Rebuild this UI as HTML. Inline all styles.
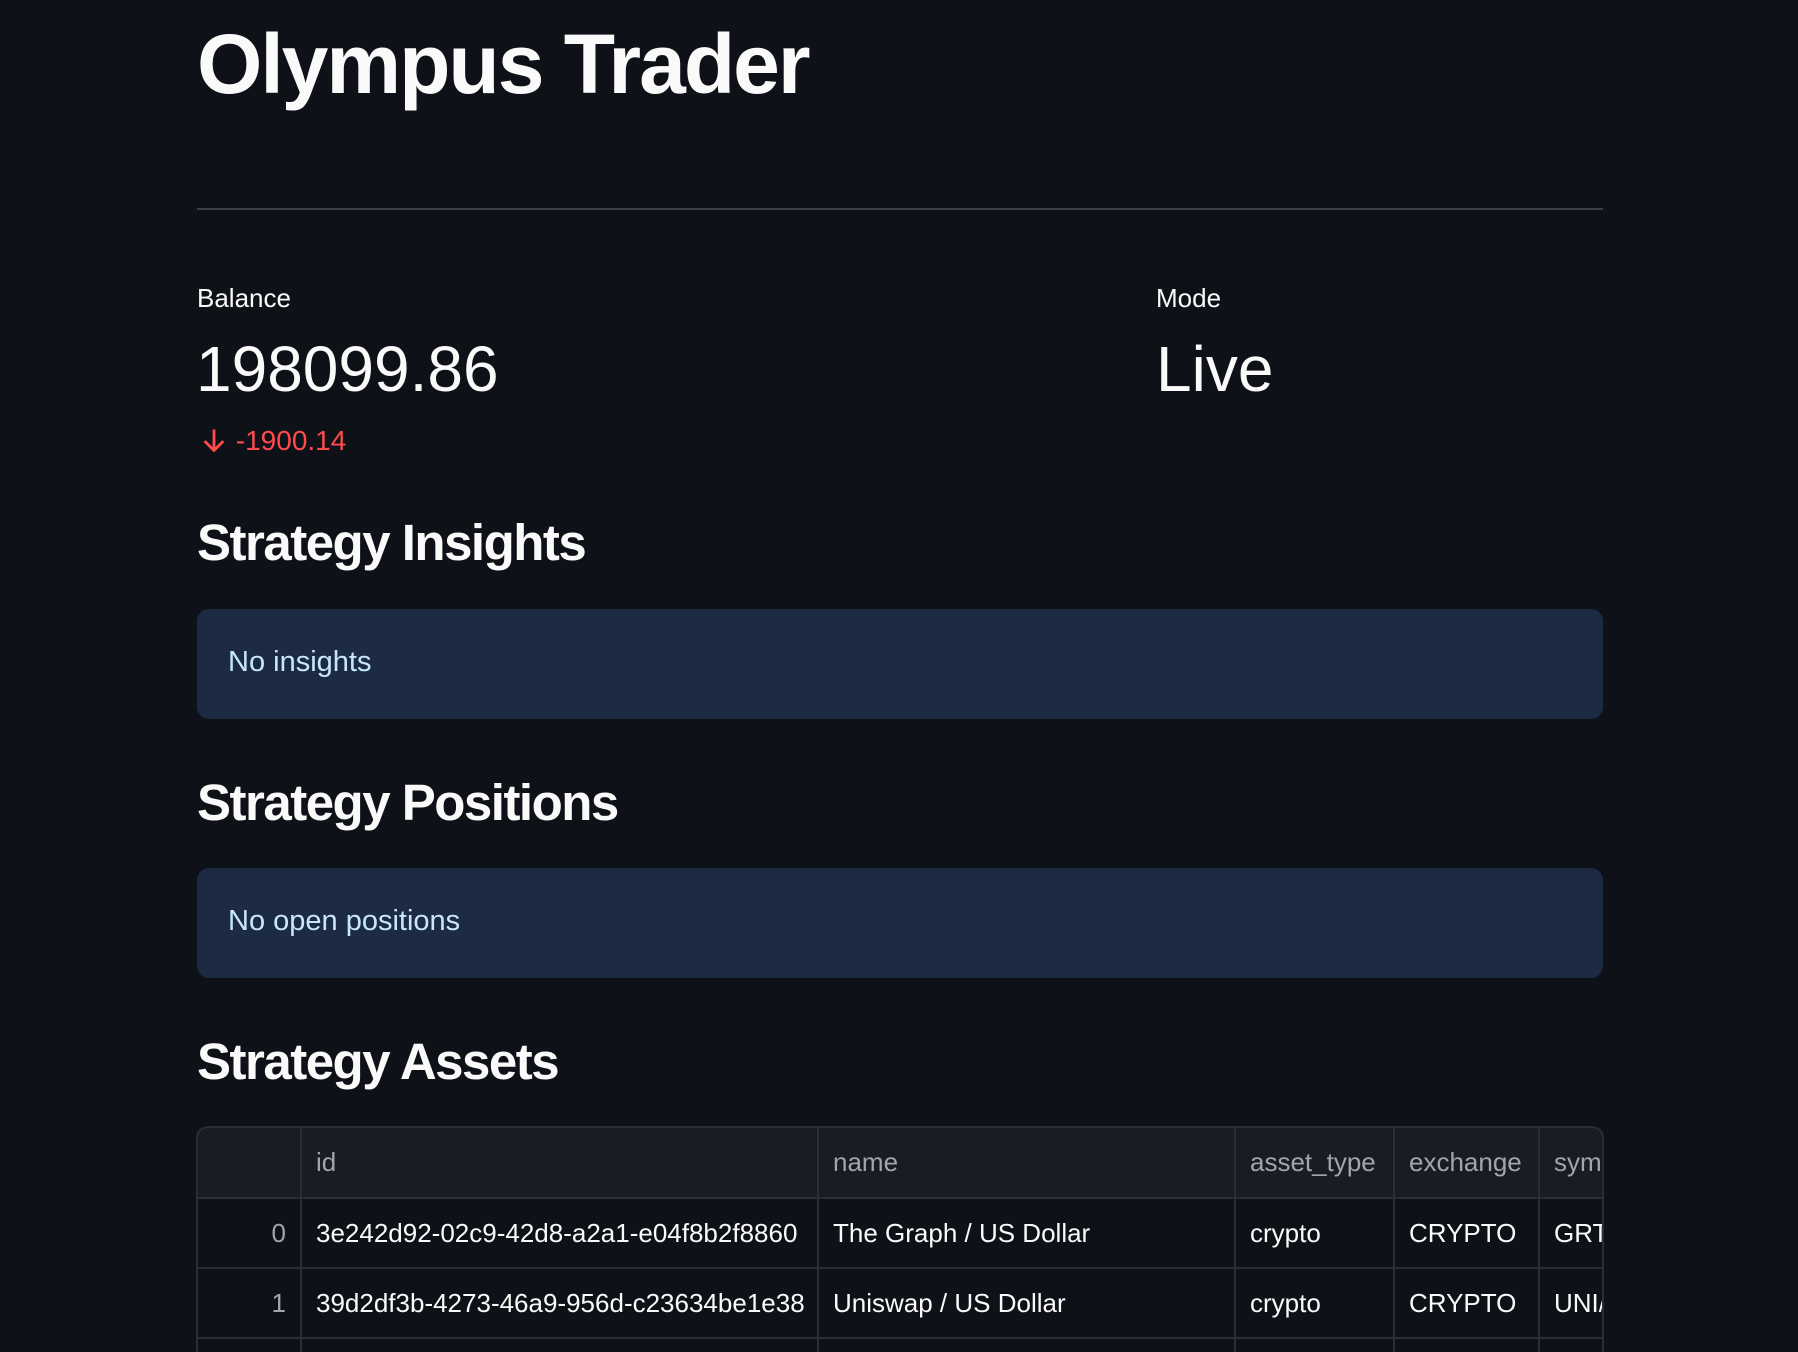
<!DOCTYPE html>
<html><head><meta charset="utf-8"><style>
html,body{margin:0;width:1798px;height:1352px;overflow:hidden}
body{background:#0e1117;color:#fafafa;font-family:"Liberation Sans",sans-serif;position:relative}
.a{position:absolute;white-space:nowrap}
h1{position:absolute;left:197px;top:14px;margin:0;font-size:84px;font-weight:bold;letter-spacing:-2px;line-height:100px}
.hr{position:absolute;left:197px;top:208px;width:1406px;height:2px;background:#3b3e46}
.lbl{font-size:26px;line-height:30px}
.big{font-size:64px;line-height:72px}
h2{position:absolute;left:197px;margin:0;font-size:51px;font-weight:bold;letter-spacing:-1.5px;line-height:60px}
.box{position:absolute;left:197px;width:1406px;height:110px;background:#1c2b42;border-radius:12px}
.box span{position:absolute;left:31px;top:37px;font-size:29px;color:#c7e6fb}
.clip{position:absolute;left:196px;top:1126px;width:1408px;height:226px;overflow:hidden;border:2px solid #2b2e36;border-bottom:none;border-radius:12px 12px 0 0;box-sizing:border-box}
table{position:absolute;left:-2px;top:-2px;width:1408px;border-collapse:collapse;font-size:26px;table-layout:fixed}
td,th{border:2px solid #2b2e36;height:68px;padding:0 14px;overflow:hidden;white-space:nowrap;font-weight:normal;text-align:left}
th{background:#1a1c24;color:#a3a5ab;height:69px}
td.i{text-align:right;color:#a3a5ab}
</style></head><body>
<h1>Olympus Trader</h1>
<div class="hr"></div>
<div class="a lbl" style="left:197px;top:283px">Balance</div>
<div class="a big" style="left:196px;top:333px">198099.86</div>
<div class="a" style="left:200px;top:425px;font-size:28px;color:#ff4b4b"><svg width="28" height="28" viewBox="0 0 24 24" style="vertical-align:-4px"><path d="M12 3v17M4 13l8 8 8-8" stroke="#ff4b4b" stroke-width="2.4" fill="none"/></svg> -1900.14</div>
<div class="a lbl" style="left:1156px;top:283px">Mode</div>
<div class="a big" style="left:1156px;top:333px">Live</div>
<h2 style="top:513px">Strategy Insights</h2>
<div class="box" style="top:609px"><span>No insights</span></div>
<h2 style="top:773px">Strategy Positions</h2>
<div class="box" style="top:868px"><span>No open positions</span></div>
<h2 style="top:1032px">Strategy Assets</h2>
<div class="clip">
<table>
<colgroup><col style="width:104px"><col style="width:517px"><col style="width:417px"><col style="width:159px"><col style="width:145px"><col style="width:66px"></colgroup>
<tr><th></th><th>id</th><th>name</th><th>asset_type</th><th>exchange</th><th>sym</th></tr>
<tr><td class="i">0</td><td>3e242d92-02c9-42d8-a2a1-e04f8b2f8860</td><td>The Graph / US Dollar</td><td>crypto</td><td>CRYPTO</td><td>GRT/</td></tr>
<tr><td class="i">1</td><td>39d2df3b-4273-46a9-956d-c23634be1e38</td><td>Uniswap / US Dollar</td><td>crypto</td><td>CRYPTO</td><td>UNI/</td></tr>
<tr><td class="i"></td><td></td><td></td><td></td><td></td><td></td></tr>
</table>
</div>
</body></html>
